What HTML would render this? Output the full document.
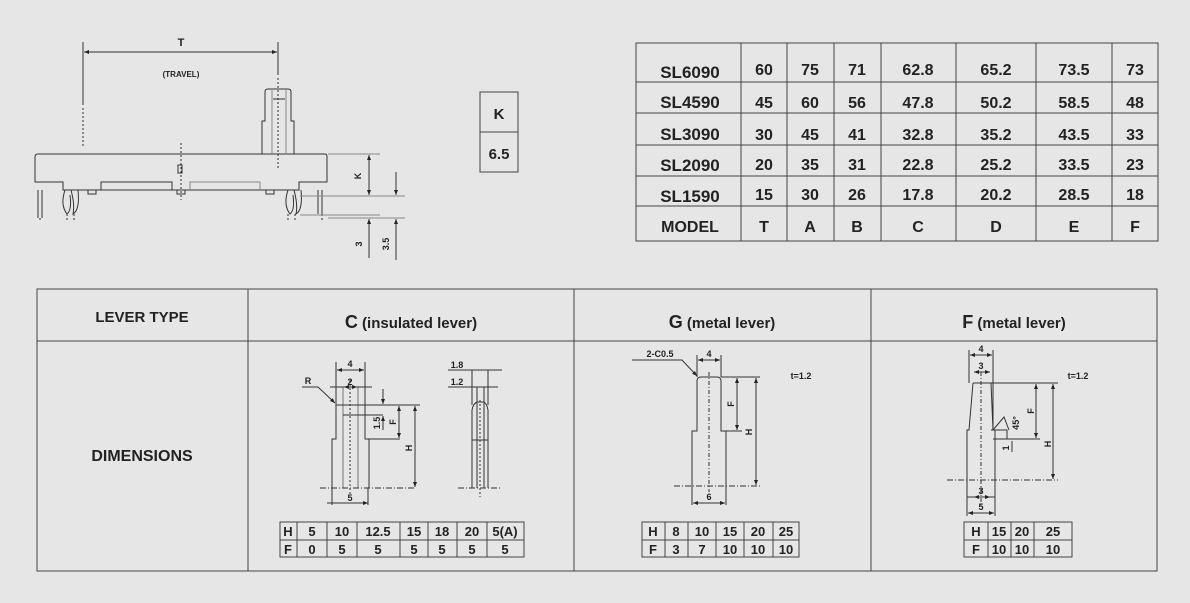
<!DOCTYPE html>
<html><head><meta charset="utf-8"><style>
html,body{margin:0;padding:0;background:#e6e6e6}
svg{display:block;font-family:"Liberation Sans",Arial,sans-serif}
</style></head><body>
<svg width="1190" height="603" viewBox="0 0 1190 603" xmlns="http://www.w3.org/2000/svg">
<defs>
<marker id="a" viewBox="0 0 10 10" refX="10" refY="5" markerWidth="7" markerHeight="5" orient="auto-start-reverse"><path d="M0,1 L10,5 L0,9 z" fill="#222"/></marker>
</defs>
<rect width="1190" height="603" fill="#e6e6e6"/>

<!-- Left drawing -->
<g stroke="#333" fill="none" stroke-width="1">
<line x1="83" y1="42" x2="83" y2="105"/>
<line x1="83" y1="108" x2="83" y2="146" stroke-dasharray="2,2"/>
<line x1="278" y1="42" x2="278" y2="75"/>
<line x1="278" y1="78" x2="278" y2="168" stroke-dasharray="2,2"/>
<line x1="84" y1="52" x2="277" y2="52" marker-start="url(#a)" marker-end="url(#a)"/>
<!-- body -->
<path d="M38,154 L325,154 Q327,154 327,157 L327,182 L299,182 L299,190 L63,190 L63,182 L35,182 L35,157 Q35,154 38,154 Z"/>
<path d="M101,190 L101,182 L172,182 L172,190"/>
<path d="M190,190 L190,182 L260,182 L260,190" stroke="#888"/>
<path d="M88,190 L88,194 L96,194 L96,190"/>
<path d="M177,190 L177,194 L185,194 L185,190"/>
<path d="M266,190 L266,194 L274,194 L274,190"/>
<!-- lever -->
<path d="M262,154 L262,121 L265,121 L265,92 Q265,89 268,89 L288,89 Q291,89 291,92 L291,121 L294,121 L294,154"/>
<line x1="272" y1="89" x2="272" y2="154" stroke="#888"/>
<line x1="286" y1="89" x2="286" y2="154" stroke="#888"/>
<line x1="273" y1="99" x2="285" y2="99"/>
<rect x="178" y="165" width="4" height="8"/>
<line x1="181" y1="143" x2="181" y2="200" stroke-dasharray="2,2"/>
<!-- pins -->
<path d="M38,190 L38,218 M42,190 L42,218"/>
<path d="M318,190 L318,214 M322,190 L322,214"/>
<path d="M65,190 Q60,205 67,214 Q72,210 70,195 M71,190 Q75,205 73,214 Q80,210 78,190"/>
<path d="M288,190 Q283,205 290,214 Q295,210 293,195 M294,190 Q298,205 296,214 Q303,210 301,190"/>
<line x1="67" y1="214" x2="67" y2="222" stroke-dasharray="2,2"/>
<line x1="74" y1="214" x2="74" y2="222" stroke-dasharray="2,2"/>
<line x1="288" y1="214" x2="288" y2="222" stroke-dasharray="2,2"/>
<line x1="295" y1="214" x2="295" y2="222" stroke-dasharray="2,2"/>
<line x1="40" y1="218" x2="40" y2="222" stroke-dasharray="2,2"/>
<line x1="322" y1="214" x2="322" y2="222" stroke-dasharray="2,2"/>
<!-- K dims -->
<g stroke="#888"><line x1="328" y1="154" x2="380" y2="154"/>
<line x1="300" y1="196" x2="405" y2="196"/>
<line x1="300" y1="215" x2="380" y2="215"/>
<line x1="328" y1="218" x2="405" y2="218"/></g>
<line x1="369" y1="155" x2="369" y2="195" marker-start="url(#a)" marker-end="url(#a)"/>
<line x1="369" y1="219" x2="369" y2="258" marker-start="url(#a)"/>
<line x1="396" y1="172" x2="396" y2="195" marker-end="url(#a)"/>
<line x1="396" y1="219" x2="396" y2="260" marker-start="url(#a)"/>
</g>
<text x="181" y="46" font-size="11" font-weight="bold" text-anchor="middle" fill="#222">T</text>
<text x="181" y="77" font-size="8" font-weight="bold" text-anchor="middle" fill="#222">(TRAVEL)</text>
<text transform="translate(361,176) rotate(-90)" font-size="9" font-weight="bold" text-anchor="middle" fill="#222">K</text>
<text transform="translate(362,244) rotate(-90)" font-size="9" font-weight="bold" text-anchor="middle" fill="#222">3</text>
<text transform="translate(389,244) rotate(-90)" font-size="9" font-weight="bold" text-anchor="middle" fill="#222">3.5</text>

<!-- K box -->
<rect x="480" y="92" width="38" height="80" fill="none" stroke="#444"/>
<line x1="480" y1="132" x2="518" y2="132" stroke="#444"/>
<text x="499" y="119" font-size="15" font-weight="bold" text-anchor="middle" fill="#222">K</text>
<text x="499" y="159" font-size="15" font-weight="bold" text-anchor="middle" fill="#222">6.5</text>

<!-- Top table -->
<g stroke="#444" fill="none">
<rect x="636" y="43" width="522" height="198"/>
<path d="M741,43V241M787,43V241M834,43V241M881,43V241M956,43V241M1036,43V241M1112,43V241"/>
<path d="M636,82H1158M636,113H1158M636,145H1158M636,176H1158M636,206H1158"/>
</g>
<g font-size="17" font-weight="bold" fill="#222" text-anchor="middle">
<text x="690" y="78">SL6090</text><text x="690" y="108">SL4590</text><text x="690" y="140">SL3090</text><text x="690" y="171">SL2090</text><text x="690" y="202">SL1590</text>
</g>
<g font-size="16" font-weight="bold" fill="#222" text-anchor="middle">
<text x="764" y="75">60</text><text x="810" y="75">75</text><text x="857" y="75">71</text><text x="918" y="75">62.8</text><text x="996" y="75">65.2</text><text x="1074" y="75">73.5</text><text x="1135" y="75">73</text>
<text x="764" y="108">45</text><text x="810" y="108">60</text><text x="857" y="108">56</text><text x="918" y="108">47.8</text><text x="996" y="108">50.2</text><text x="1074" y="108">58.5</text><text x="1135" y="108">48</text>
<text x="764" y="140">30</text><text x="810" y="140">45</text><text x="857" y="140">41</text><text x="918" y="140">32.8</text><text x="996" y="140">35.2</text><text x="1074" y="140">43.5</text><text x="1135" y="140">33</text>
<text x="764" y="170">20</text><text x="810" y="170">35</text><text x="857" y="170">31</text><text x="918" y="170">22.8</text><text x="996" y="170">25.2</text><text x="1074" y="170">33.5</text><text x="1135" y="170">23</text>
<text x="764" y="200">15</text><text x="810" y="200">30</text><text x="857" y="200">26</text><text x="918" y="200">17.8</text><text x="996" y="200">20.2</text><text x="1074" y="200">28.5</text><text x="1135" y="200">18</text>
<text x="690" y="232">MODEL</text><text x="764" y="232">T</text><text x="810" y="232">A</text><text x="857" y="232">B</text><text x="918" y="232">C</text><text x="996" y="232">D</text><text x="1074" y="232">E</text><text x="1135" y="232">F</text>
</g>

<!-- Bottom table frame -->
<g stroke="#444" fill="none">
<rect x="37" y="289" width="1120" height="282"/>
<line x1="37" y1="341" x2="1157" y2="341"/>
<path d="M248,289V571M574,289V571M871,289V571"/>
</g>
<g font-weight="bold" fill="#222" text-anchor="middle">
<text x="142" y="322" font-size="15">LEVER TYPE</text>
<text x="142" y="461" font-size="16">DIMENSIONS</text>
<text x="411" y="328" font-size="15"><tspan font-size="18">C</tspan> (insulated lever)</text>
<text x="722" y="328" font-size="15"><tspan font-size="18">G</tspan> (metal lever)</text>
<text x="1014" y="328" font-size="15"><tspan font-size="18">F</tspan> (metal lever)</text>
</g>

<!-- C drawing -->
<g stroke="#333" fill="none" stroke-width="1">
<path d="M332,488 L332,439 L336,439 L336,387 L365,387 L365,439 L369,439 L369,488"/>
<line x1="343" y1="387" x2="343" y2="488" stroke="#777"/>
<line x1="358" y1="387" x2="358" y2="488" stroke="#777"/>
<line x1="336" y1="405" x2="400" y2="405"/>
<line x1="343" y1="415" x2="383" y2="415"/>
<line x1="350" y1="380" x2="350" y2="495" stroke-dasharray="2,2"/>
<line x1="320" y1="488" x2="415" y2="488" stroke-dasharray="6,2,1,2"/>
<line x1="365" y1="439" x2="400" y2="439"/>
<line x1="400" y1="405" x2="420" y2="405"/>
<line x1="415" y1="406" x2="415" y2="487" marker-start="url(#a)" marker-end="url(#a)"/>
<line x1="399" y1="406" x2="399" y2="438" marker-start="url(#a)" marker-end="url(#a)"/>
<line x1="383" y1="389" x2="383" y2="404" marker-end="url(#a)"/>
<line x1="383" y1="430" x2="383" y2="416" marker-end="url(#a)"/>
<line x1="336" y1="362" x2="336" y2="387"/><line x1="365" y1="362" x2="365" y2="387"/>
<line x1="337" y1="370" x2="364" y2="370" marker-start="url(#a)" marker-end="url(#a)"/>
<line x1="330" y1="387" x2="372" y2="387"/>
<line x1="344" y1="387" x2="357" y2="387" marker-start="url(#a)" marker-end="url(#a)"/>
<path d="M302,387 L318,387 L335,403" marker-end="url(#a)"/>
<line x1="332" y1="488" x2="332" y2="505"/><line x1="368" y1="488" x2="368" y2="505"/>
<line x1="327" y1="503" x2="368" y2="503" marker-end="url(#a)"/>
<!-- side -->
<path d="M472,488 L472,410 Q473,404 477,402 L484,402 Q487,404 488,410 L488,488"/>
<line x1="477" y1="387" x2="477" y2="488"/><line x1="484" y1="387" x2="484" y2="488"/>
<line x1="472" y1="370" x2="472" y2="405"/><line x1="488" y1="370" x2="488" y2="405"/>
<line x1="472" y1="440" x2="488" y2="440"/>
<line x1="480" y1="400" x2="480" y2="497" stroke-dasharray="2,2"/>
<line x1="458" y1="488" x2="500" y2="488" stroke-dasharray="6,2,1,2"/>
<line x1="448" y1="370" x2="502" y2="370"/>
<line x1="448" y1="387" x2="498" y2="387"/>
</g>
<g font-size="9" font-weight="bold" fill="#222" text-anchor="middle">
<text x="350" y="367">4</text><text x="350" y="385">2</text><text x="308" y="384">R</text><text x="350" y="501">5</text>
<text x="457" y="368">1.8</text><text x="457" y="385">1.2</text>
<text transform="translate(380,423) rotate(-90)">1.5</text>
<text transform="translate(396,422) rotate(-90)">F</text>
<text transform="translate(412,448) rotate(-90)">H</text>
</g>
<!-- C table -->
<g stroke="#444" fill="none"><rect x="280" y="522" width="244" height="35"/><path d="M280,540H524M297,522V557M327,522V557M357,522V557M400,522V557M428,522V557M457,522V557M487,522V557"/></g>
<g font-size="13" font-weight="bold" fill="#222" text-anchor="middle">
<text x="288" y="536">H</text><text x="312" y="536">5</text><text x="342" y="536">10</text><text x="378" y="536">12.5</text><text x="414" y="536">15</text><text x="442" y="536">18</text><text x="472" y="536">20</text><text x="505" y="536">5(A)</text>
<text x="288" y="554">F</text><text x="312" y="554">0</text><text x="342" y="554">5</text><text x="378" y="554">5</text><text x="414" y="554">5</text><text x="442" y="554">5</text><text x="472" y="554">5</text><text x="505" y="554">5</text>
</g>

<!-- G drawing -->
<g stroke="#333" fill="none">
<path d="M692,486 L692,431 L697,431 L697,381 Q697,377 701,377 L717,377 Q721,377 721,381 L721,431 L726,431 L726,486"/>
<line x1="709" y1="372" x2="709" y2="492" stroke-dasharray="4,2,1,2"/>
<line x1="674" y1="486" x2="760" y2="486" stroke-dasharray="6,2,1,2"/>
<line x1="721" y1="377" x2="760" y2="377"/>
<line x1="721" y1="431" x2="742" y2="431"/>
<line x1="737" y1="378" x2="737" y2="430" marker-start="url(#a)" marker-end="url(#a)"/>
<line x1="756" y1="378" x2="756" y2="485" marker-start="url(#a)" marker-end="url(#a)"/>
<line x1="697" y1="355" x2="697" y2="377"/><line x1="721" y1="355" x2="721" y2="377"/>
<line x1="698" y1="360" x2="720" y2="360" marker-start="url(#a)" marker-end="url(#a)"/>
<line x1="692" y1="486" x2="692" y2="505"/><line x1="726" y1="486" x2="726" y2="505"/>
<line x1="693" y1="503" x2="725" y2="503" marker-start="url(#a)" marker-end="url(#a)"/>
<path d="M632,360 L682,360 L697,376" marker-end="url(#a)"/>
</g>
<g font-size="9" font-weight="bold" fill="#222" text-anchor="middle">
<text x="660" y="357">2-C0.5</text><text x="709" y="357">4</text><text x="709" y="500">6</text>
<text x="801" y="379">t=1.2</text>
<text transform="translate(734,404) rotate(-90)">F</text>
<text transform="translate(752,432) rotate(-90)">H</text>
</g>
<g stroke="#444" fill="none"><rect x="642" y="522" width="157" height="35"/><path d="M642,540H799M665,522V557M688,522V557M716,522V557M744,522V557M773,522V557"/></g>
<g font-size="13" font-weight="bold" fill="#222" text-anchor="middle">
<text x="653" y="536">H</text><text x="676" y="536">8</text><text x="702" y="536">10</text><text x="730" y="536">15</text><text x="758" y="536">20</text><text x="786" y="536">25</text>
<text x="653" y="554">F</text><text x="676" y="554">3</text><text x="702" y="554">7</text><text x="730" y="554">10</text><text x="758" y="554">10</text><text x="786" y="554">10</text>
</g>

<!-- F drawing -->
<g stroke="#333" fill="none">
<path d="M973,383 L991,383 L993,430 L995,430 L995,497 M973,383 L969,430 L967,430 L967,497 L995,497"/>
<path d="M991,430 L1007,430 L1007,439 L993,439"/>
<path d="M993,430 L1004,417 L1009,430"/>
<line x1="981" y1="372" x2="981" y2="505" stroke-dasharray="4,2,1,2"/>
<line x1="947" y1="480" x2="1058" y2="480" stroke-dasharray="6,2,1,2"/>
<line x1="991" y1="383" x2="1058" y2="383"/>
<line x1="1007" y1="439" x2="1040" y2="439"/>
<line x1="1036" y1="384" x2="1036" y2="438" marker-start="url(#a)" marker-end="url(#a)"/>
<line x1="1053" y1="384" x2="1053" y2="479" marker-start="url(#a)" marker-end="url(#a)"/>
<line x1="969" y1="350" x2="969" y2="383"/><line x1="993" y1="350" x2="993" y2="430"/>
<line x1="970" y1="355" x2="992" y2="355" marker-start="url(#a)" marker-end="url(#a)"/>
<line x1="974" y1="372" x2="990" y2="372" marker-start="url(#a)" marker-end="url(#a)"/>
<line x1="974" y1="497" x2="990" y2="497" marker-start="url(#a)" marker-end="url(#a)"/>
<line x1="967" y1="497" x2="967" y2="516"/><line x1="995" y1="497" x2="995" y2="516"/>
<line x1="968" y1="513" x2="994" y2="513" marker-start="url(#a)" marker-end="url(#a)"/>
<line x1="1012" y1="441" x2="1012" y2="452"/>
</g>
<g font-size="9" font-weight="bold" fill="#222" text-anchor="middle">
<text x="981" y="352">4</text><text x="981" y="369">3</text><text x="981" y="494">3</text><text x="981" y="510">5</text>
<text x="1078" y="379">t=1.2</text>
<text transform="translate(1034,411) rotate(-90)">F</text>
<text transform="translate(1051,444) rotate(-90)">H</text>
<text transform="translate(1019,423) rotate(-90)">45°</text>
<text transform="translate(1009,448) rotate(-90)">1</text>
</g>
<g stroke="#444" fill="none"><rect x="964" y="522" width="108" height="35"/><path d="M964,540H1072M988,522V557M1011,522V557M1034,522V557"/></g>
<g font-size="13" font-weight="bold" fill="#222" text-anchor="middle">
<text x="976" y="536">H</text><text x="999" y="536">15</text><text x="1022" y="536">20</text><text x="1053" y="536">25</text>
<text x="976" y="554">F</text><text x="999" y="554">10</text><text x="1022" y="554">10</text><text x="1053" y="554">10</text>
</g>
</svg>
</body></html>
